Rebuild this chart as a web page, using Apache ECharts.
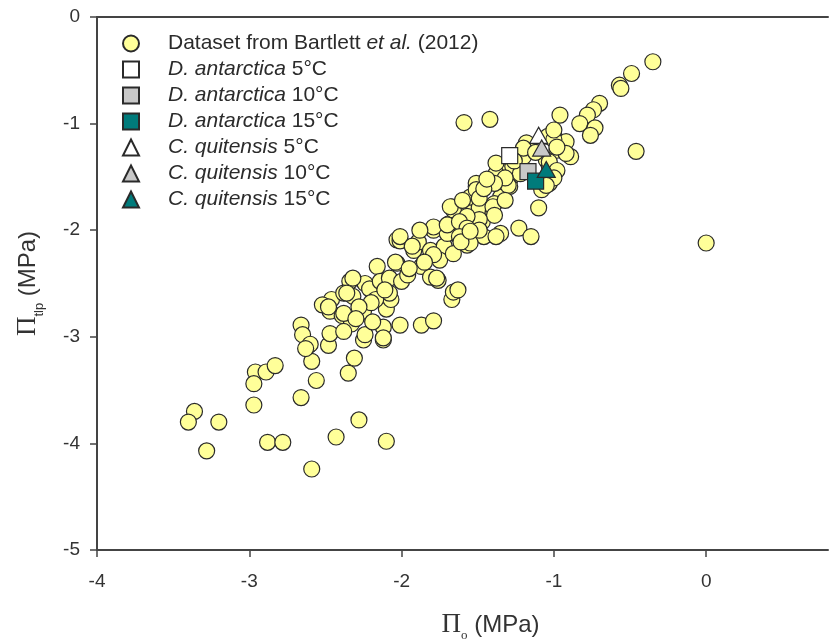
<!DOCTYPE html>
<html>
<head>
<meta charset="utf-8">
<script src="https://cdn.jsdelivr.net/npm/echarts@6/dist/echarts.min.js"></script>
<style>
  html, body { margin: 0; padding: 0; background: #fff; }
  #chart { width: 831px; height: 641px; }
</style>
</head>
<body>
<div id="chart"></div>
<script>
// Π_o vs Π_tlp points
const bartlett = [
  [-3.36,-3.70],[-3.40,-3.80],[-3.20,-3.80],[-3.28,-4.07],
  [-2.96,-3.33],[-2.89,-3.33],[-2.83,-3.27],[-2.97,-3.44],[-2.97,-3.64],
  [-2.88,-3.99],[-2.78,-3.99],[-2.59,-4.24],[-2.66,-3.57],[-2.56,-3.41],
  [-2.59,-3.23],[-2.61,-3.08],[-2.48,-3.08],[-2.31,-3.20],[-2.35,-3.34],
  [-2.43,-3.94],[-2.28,-3.78],[-2.10,-3.98],[-2.25,-3.03],[-2.12,-3.03],
  [-2.66,-2.89],[-2.65,-2.98],[-2.60,-3.07],[-2.63,-3.11],
  [-2.47,-2.76],[-2.47,-2.97],[-2.39,-2.80],[-2.33,-2.88],[-2.38,-2.95],
  [-2.25,-2.76],[-2.24,-2.98],[-2.12,-2.91],[-2.12,-3.01],[-2.10,-2.74],
  [-2.01,-2.89],[-1.87,-2.89],[-1.79,-2.85],[-1.67,-2.65],
  [-2.38,-2.78],[-2.34,-2.48],[-2.32,-2.62],[-2.24,-2.50],[-2.21,-2.55],
  [-2.16,-2.34],[-2.14,-2.48],[-2.08,-2.45],[-2.03,-2.31],[-2.00,-2.48],
  [-1.92,-2.19],[-1.96,-2.42],[-2.46,-2.65],[-2.07,-2.65],[-2.17,-2.65],
  [-2.08,-2.59],[-2.03,-2.09],[-2.01,-2.10],[-2.04,-2.30],[-1.89,-2.11],[-1.81,-2.19],
  [-1.72,-2.15],[-1.79,-2.00],[-1.69,-1.94],[-1.67,-1.78],[-1.58,-1.78],
  [-1.57,-2.14],[-1.53,-1.90],[-1.51,-1.59],[-1.55,-1.69],[-1.75,-2.28],
  [-1.87,-2.34],[-1.81,-2.44],[-1.65,-2.03],[-1.76,-2.47],[-1.66,-2.58],
  [-1.63,-2.56],[-2.01,-2.06],
  [-0.35,-0.42],[-0.49,-0.53],[-0.57,-0.64],[-0.56,-0.67],[-0.70,-0.81],
  [-0.74,-0.87],[-0.78,-0.92],[-0.83,-1.00],[-0.73,-1.04],[-0.76,-1.11],
  [-0.96,-0.92],[-1.59,-0.99],[-1.42,-0.96],[-0.46,-1.26],[0.00,-2.12],
  [-1.00,-1.11],[-0.92,-1.17],[-0.89,-1.31],[-0.98,-1.25],[-1.04,-1.12],
  [-1.00,-1.47],[-1.03,-1.56],[-1.10,-1.79],[-1.23,-1.98],[-1.15,-2.06],
  [-1.16,-1.22],[-1.35,-1.44],[-1.29,-1.53],[-1.29,-1.59],[-1.38,-1.47],
  [-1.35,-1.69],[-1.39,-1.75],[-1.51,-1.56],[-1.51,-1.62],[-1.66,-1.81],
  [-1.49,-1.79],[-1.40,-1.84],[-1.35,-2.03],[-1.47,-1.92],[-1.57,-1.90],
  [-1.70,-2.03],[-1.58,-2.03],[-1.46,-2.06],[-1.38,-2.06],
  [-1.05,-1.34],[-1.03,-1.40],[-1.00,-1.15],[-1.18,-1.18],[-1.27,-1.40],
  [-1.20,-1.31],[-1.22,-1.47],[-1.00,-1.06],[-0.92,-1.28],
  [-1.30,-1.58],[-1.49,-1.70],[-1.40,-1.78],[-1.32,-1.72],[-1.20,-1.23],
  [-0.98,-1.22],[-1.03,-1.36],[-0.98,-1.44],[-1.00,-1.51],[-1.08,-1.62],
  [-1.05,-1.58],[-1.38,-1.37],[-1.32,-1.51],[-1.39,-1.56],[-1.46,-1.61],
  [-1.68,-1.78],[-1.39,-1.86],[-1.49,-1.90],[-1.57,-1.87],[-1.79,-1.97],
  [-1.70,-1.95],[-1.62,-1.92],[-1.57,-1.98],[-1.49,-2.00],[-1.88,-2.00],
  [-1.93,-2.15],[-1.62,-2.06],[-1.55,-2.12],[-1.79,-2.23],[-1.66,-2.22],
  [-2.52,-2.70],[-2.32,-2.45],[-2.38,-2.59],[-2.11,-2.56],
  [-1.77,-2.45],[-1.61,-2.11],[-1.55,-2.01],[-2.48,-2.72],[-2.36,-2.59],
  [-1.85,-2.30],[-1.95,-2.36],[-2.20,-2.68],[-2.28,-2.72],[-1.60,-1.72],
  [-1.44,-1.52],[-1.26,-1.35],[-1.12,-1.27],[-2.19,-2.86],[-2.30,-2.83]
];

// means per temperature (5, 10, 15 °C)
const dAntarctica = [[-1.29,-1.30],[-1.17,-1.45],[-1.12,-1.54]];
const cQuitensis = [[-1.10,-1.11],[-1.08,-1.23],[-1.05,-1.43]];

const temps = ['5°C', '10°C', '15°C'];
const tempFills = ['#ffffff', '#c8c8c8', '#007b7b'];
const xTicks = [-4, -3, -2, -1, 0];

const bartlettName = 'Dataset from Bartlett et al. (2012)';
const edge = '#2a2a2a';
const sans = 'Liberation Sans, Arial, sans-serif';
const serif = 'Liberation Serif, Times New Roman, serif';

const series = [{
    name: bartlettName,
    type: 'scatter',
    data: bartlett,
    symbol: 'circle',
    symbolSize: 16,
    itemStyle: { color: '#ffff99', borderColor: edge, borderWidth: 1.2, opacity: 1 },
    z: 2
}];

temps.forEach((t, i) => {
    series.push({
        name: 'D. antarctica ' + t,
        type: 'scatter',
        data: [dAntarctica[i]],
        symbol: 'rect',
        symbolSize: 16,
        itemStyle: { color: tempFills[i], borderColor: edge, borderWidth: 1.2, opacity: 1 },
        z: 3
    });
});
temps.forEach((t, i) => {
    series.push({
        name: 'C. quitensis ' + t,
        type: 'scatter',
        data: [cQuitensis[i]],
        symbol: 'triangle',
        symbolSize: [18, 16],
        itemStyle: { color: tempFills[i], borderColor: edge, borderWidth: 1.2, opacity: 1 },
        z: 4
    });
});

// legend labels with italic species names
function legendLabel(name) {
    if (name === bartlettName) return '{g|}{t|Dataset from Bartlett }{i|et al.}{t| (2012)}';
    const parts = name.split(' ');
    const temp = parts.pop();
    return '{g|}{i|' + parts.join(' ') + '}{t| ' + temp + '}';
}

const chart = echarts.init(document.getElementById('chart'));
chart.setOption({
    animation: false,
    backgroundColor: '#fff',
    grid: { left: 97, right: 3, top: 17, bottom: 91, outerBoundsMode: 'none', containLabel: false },
    legend: {
        orient: 'vertical',
        left: 122,
        top: 33,
        itemWidth: 16,
        itemHeight: 16,
        itemGap: 5,
        padding: 0,
        data: series.map(s => s.name),
        formatter: legendLabel,
        itemStyle: { opacity: 1 },
        textStyle: {
            lineHeight: 16,
            rich: {
                g: { width: 24, height: 16, lineHeight: 16 },
                t: { fontFamily: sans, fontSize: 21, color: '#2b2b2b', lineHeight: 16 },
                i: { fontFamily: sans, fontSize: 21, fontStyle: 'italic', color: '#2b2b2b', lineHeight: 16 }
            }
        }
    },
    xAxis: [{
        type: 'value',
        min: -4,
        max: 0.8,
        interval: 1,
        splitLine: { show: false },
        axisLine: { onZero: false, lineStyle: { color: '#444', width: 2 } },
        axisTick: { inside: false, length: 7, customValues: xTicks, lineStyle: { color: '#444', width: 1.5 } },
        axisLabel: { customValues: xTicks, margin: 22, fontFamily: sans, fontSize: 19, color: '#333' },
        name: '{p|Π}{s|o}{t| (MPa)}',
        nameLocation: 'middle',
        nameGap: 60,
        nameTextStyle: {
            padding: [0, 0, 0, 56],
            rich: {
                p: { fontFamily: serif, fontSize: 27, color: '#333', lineHeight: 30 },
                s: { fontFamily: serif, fontSize: 13, color: '#333', lineHeight: 30, verticalAlign: 'bottom', padding: [0, 0, -2, 0] },
                t: { fontFamily: sans, fontSize: 24, color: '#333', lineHeight: 30 }
            }
        }
    }, {
        type: 'value',
        position: 'top',
        min: -4,
        max: 0.8,
        axisLine: { onZero: false, lineStyle: { color: '#444', width: 2 } },
        axisTick: { show: false },
        axisLabel: { show: false },
        splitLine: { show: false }
    }],
    yAxis: {
        type: 'value',
        min: -5,
        max: 0,
        interval: 1,
        splitLine: { show: false },
        axisLine: { onZero: false, lineStyle: { color: '#444', width: 2 } },
        axisTick: { length: 7, lineStyle: { color: '#444', width: 1.5 } },
        axisLabel: { margin: 17, fontFamily: sans, fontSize: 19, color: '#333' },
        name: '{p|Π}{s|tlp}{t| (MPa)}',
        nameLocation: 'middle',
        nameGap: 54,
        nameTextStyle: {
            rich: {
                p: { fontFamily: serif, fontSize: 27, color: '#333', lineHeight: 30 },
                s: { fontFamily: sans, fontSize: 13, color: '#333', lineHeight: 30, verticalAlign: 'bottom', padding: [0, 0, -3, 0] },
                t: { fontFamily: sans, fontSize: 24, color: '#333', lineHeight: 30 }
            }
        }
    },
    series: series
});
</script>
</body>
</html>
